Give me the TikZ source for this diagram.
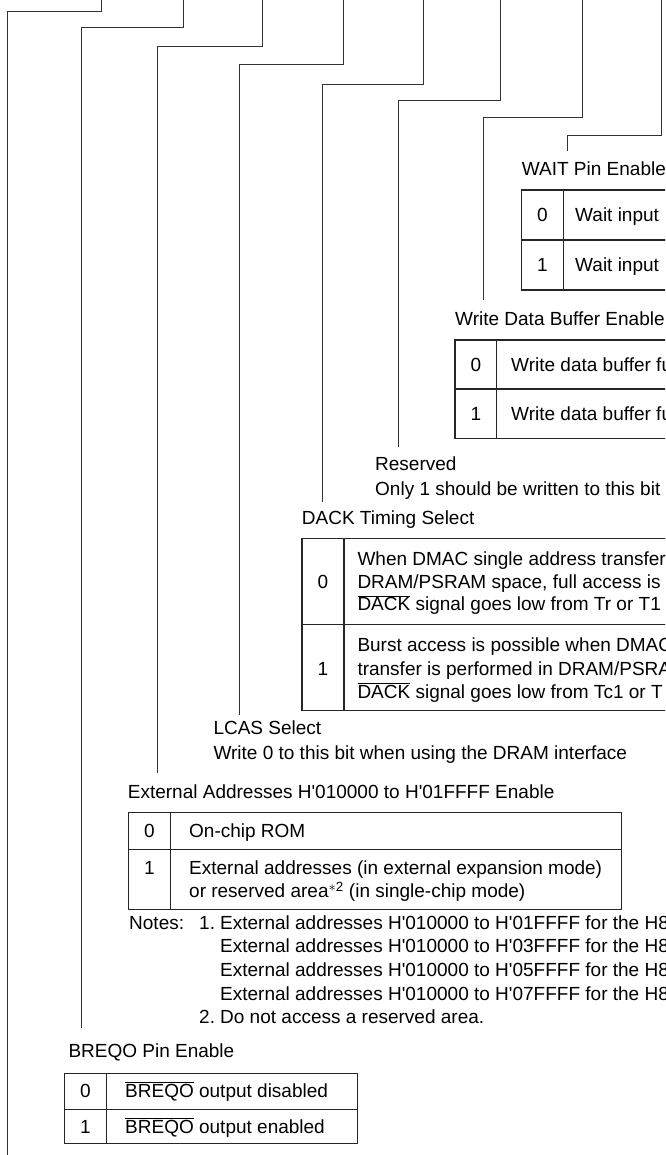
\documentclass[tikz,border=0pt]{standalone}
\usepackage{fontspec}
\setmainfont{Liberation Sans}
\newcommand{\ovr}[1]{\ensuremath{\overline{\mbox{#1}}}}
\newcommand{\ap}{\textquotesingle}
\begin{document}
\begin{tikzpicture}[x=1pt,y=-1pt,
  lbl/.style={anchor=base west,inner sep=0pt,font=\fontsize{19}{23}\selectfont},
  num/.style={anchor=base,inner sep=0pt,font=\fontsize{19}{23}\selectfont},
  wire/.style={line width=1pt,draw=black!80},
  tbl/.style={line width=1.1pt,draw=black!85}]
\useasboundingbox (0,0) rectangle (665,1155);
\begin{scope}
\clip (0,0) rectangle (665,1155);
% ---------- bit connectors ----------
\coordinate (t1) at (101.8,0); \coordinate (k1) at (7.3,11.7);  \coordinate (e1) at (7.3,1155);
\coordinate (t2) at (183.2,0); \coordinate (k2) at (81,27.7);   \coordinate (e2) at (81,1028.3);
\coordinate (t3) at (262,0);   \coordinate (k3) at (157.3,46.7);\coordinate (e3) at (157.3,772.7);
\coordinate (t4) at (343.5,0); \coordinate (k4) at (239,64.3);  \coordinate (e4) at (239,715);
\coordinate (t5) at (423.7,0); \coordinate (k5) at (322,85);    \coordinate (e5) at (322,502.3);
\coordinate (t6) at (500.4,0); \coordinate (k6) at (398.6,101); \coordinate (e6) at (398.6,447);
\coordinate (t7) at (582.3,0); \coordinate (k7) at (483,117.7); \coordinate (e7) at (483,300);
\coordinate (t8) at (661.6,0); \coordinate (k8) at (567,135.7); \coordinate (e8) at (567,150.7);
\foreach \i in {1,...,8}{\draw[wire] (t\i) |- (k\i) -- (e\i);}

% ---------- WAIT Pin Enable ----------
\node[lbl] (wlab) at (521.7,175.8) {WAIT Pin Enable};
\draw[tbl] (521.7,190) rectangle (690,290);
\draw[tbl] (521.7,240) -- (690,240) (563.3,190) -- (563.3,290);
\node[num] (w0n) at (542.5,221.5) {0};
\node[lbl] (w0t) at (575,221.5) {Wait input};
\node[num] (w1n) at (542.5,271.5) {1};
\node[lbl] (w1t) at (575,271.5) {Wait input};

% ---------- Write Data Buffer Enable ----------
\node[lbl] (blab) at (455,325.8) {Write Data Buffer Enable};
\draw[tbl] (455,340) rectangle (690,438.3);
\draw[tbl] (455,389) -- (690,389) (496.7,340) -- (496.7,438.3);
\node[num] (b0n) at (475.9,371) {0};
\node[lbl] (b0t) at (511,371) {Write data buffer fu};
\node[num] (b1n) at (475.9,420) {1};
\node[lbl] (b1t) at (511,420) {Write data buffer fu};

% ---------- Reserved ----------
\node[lbl] (rlab) at (375,470.5) {Reserved};
\node[lbl] (rtxt) at (375,495.5) {Only 1 should be written to this bit};

% ---------- DACK Timing Select ----------
\node[lbl] (dlab) at (301.7,524.8) {DACK Timing Select};
\draw[tbl] (302,538.3) rectangle (690,710.7);
\draw[tbl] (302,624.3) -- (690,624.3) (344,538.3) -- (344,710.7);
\node[num] (d0n) at (323,588) {0};
\node[lbl] (d0a) at (357.3,565.5) {When DMAC single address transfer};
\node[lbl] (d0b) at (357.3,588) {DRAM/PSRAM space, full access is};
\node[lbl] (d0c) at (357.3,610.5) {\ovr{DACK} signal goes low from Tr or T1};
\node[num] (d1n) at (323,675) {1};
\node[lbl] (d1a) at (357.3,651.5) {Burst access is possible when DMAC};
\node[lbl] (d1b) at (357.3,675) {transfer is performed in DRAM/PSRAM};
\node[lbl] (d1c) at (357.3,698) {\ovr{DACK} signal goes low from Tc1 or T};

% ---------- LCAS Select ----------
\node[lbl] (llab) at (213.3,734.8) {LCAS Select};
\node[lbl] (ltxt) at (213.3,759.8) {Write 0 to this bit when using the DRAM interface};

% ---------- External Addresses ----------
\node[lbl] (xlab) at (127.7,798.2) {External Addresses H\ap010000 to H\ap01FFFF Enable};
\draw[tbl] (128.3,812.3) rectangle (621.7,909.3);
\draw[tbl] (128.3,849.3) -- (621.7,849.3) (170.3,812.3) -- (170.3,909.3);
\node[num] (x0n) at (149.3,837.5) {0};
\node[lbl] (x0t) at (189,837.5) {On-chip ROM};
\node[num] (x1n) at (149.3,874.2) {1};
\node[lbl] (x1a) at (189,874.2) {External addresses (in external expansion mode)};
\node[lbl] (x1b) at (189,897.5) {or reserved area\textsuperscript{$\ast$2} (in single-chip mode)};

% ---------- Notes ----------
\node[lbl] (nlab) at (129,929) {Notes:};
\node[lbl] (n1) at (199,929) {1.};
\node[lbl] (n1a) at (220,929) {External addresses H\ap010000 to H\ap01FFFF for the H8};
\node[lbl] (n1b) at (220,952.7) {External addresses H\ap010000 to H\ap03FFFF for the H8};
\node[lbl] (n1c) at (220,976.3) {External addresses H\ap010000 to H\ap05FFFF for the H8};
\node[lbl] (n1d) at (220,1000) {External addresses H\ap010000 to H\ap07FFFF for the H8};
\node[lbl] (n2) at (199,1023.6) {2.};
\node[lbl] (n2a) at (220,1023.6) {Do not access a reserved area.};

% ---------- BREQO Pin Enable ----------
\node[lbl] (qlab) at (68.3,1057.2) {BREQO Pin Enable};
\draw[tbl] (64.3,1073.3) rectangle (357.3,1143.3);
\draw[tbl] (64.3,1109.3) -- (357.3,1109.3) (106.7,1073.3) -- (106.7,1143.3);
\node[num] (q0n) at (85.5,1097.2) {0};
\node[lbl] (q0t) at (125,1097.2) {\ovr{BREQO} output disabled};
\node[num] (q1n) at (85.5,1133.2) {1};
\node[lbl] (q1t) at (125,1133.2) {\ovr{BREQO} output enabled};
\end{scope}
\end{tikzpicture}
\end{document}
